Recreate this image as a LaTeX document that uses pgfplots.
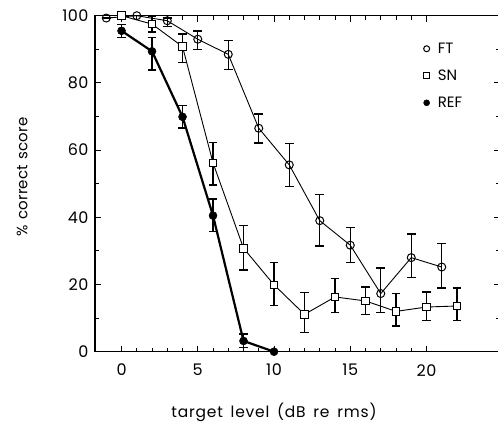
\documentclass[border=0pt]{standalone}
\usepackage{pgfplots}
\pgfplotsset{compat=1.18}
\usepackage{pgfplotstable}
\usepackage{fontspec}
\setmainfont{Poppins}
\pgfplotstableread{
x y ep em
-1 99.3 0 0
1 100 0 0
3 98.5 0.8 1.8
5 93 2.4 3
7 88.5 4.2 4.5
9 66.5 4.3 4.4
11 55.6 6.4 6.5
13 39 7.8 7.5
15 31.7 5.3 5.2
17 17.3 7.6 5.7
19 28 7 6
21 25.2 7 6.2
}\ft
\pgfplotstableread{
x y ep em
0 100 0 0
2 97.5 2.2 2.3
4 90.8 3.8 4.8
6 56.2 6.1 6.6
8 30.8 6.8 6.5
10 19.9 6.7 6.2
12 11.1 6.6 5.3
14 16.3 5.5 4.6
16 15.1 4.2 4.1
18 12 5.3 4.3
20 13.3 4.5 4.1
22 13.6 5.3 4.4
}\sn
\pgfplotstableread{
x y ep em
0 95.5 1.8 2
2 89.4 4.2 5.6
4 69.9 3.3 3.3
6 40.5 5 4.7
8 3.2 2.1 1.9
10 0 0 0
}\reff
\begin{document}
\begin{tikzpicture}
\useasboundingbox (-95pt,-71.3pt) rectangle (403pt,351.7pt);
\begin{axis}[
  at={(0,0)}, anchor=south west,
  scale only axis, width=405pt, height=336pt,
  xmin=-1.74, xmax=24.82, ymin=0, ymax=100,
  xtick={0,5,10,15,20}, minor x tick num=4,
  ytick={0,20,40,60,80,100}, minor y tick num=1,
  tick align=inside,
  major tick length=6pt, minor tick length=4pt,
  tick style={black, line width=1pt},
  axis line style={line width=1.3pt},
  /pgf/number format/assume math mode=true,
  tick label style={font=\fontsize{16}{16}\selectfont\addfontfeatures{LetterSpace=3}},
  xticklabel style={yshift=-9pt},
  yticklabel style={xshift=-3pt},
  xlabel={target\hspace{0.5em}level\hspace{0.5em}(dB\hspace{0.5em}re\hspace{0.5em}rms)},
  ylabel={\%\hspace{0.35em}correct\hspace{0.35em}score},
  xlabel style={font=\fontsize{15.5}{15.5}\selectfont\addfontfeatures{LetterSpace=5},
    at={(rel axis cs:0.442,0)}, anchor=center, yshift=-61pt},
  ylabel style={font=\fontsize{15}{15}\selectfont\addfontfeatures{LetterSpace=1},
    at={(rel axis cs:-0.18,0.52)}, anchor=center},
  legend style={draw=none, fill=none, at={(axis cs:19.8,92.6)}, anchor=north west,
    font=\fontsize{15}{15}\selectfont, row sep=11pt, inner sep=0pt},
  legend cell align=left,
  legend image code/.code={\path[draw=none] (0cm,0cm) -- (0.42cm,0cm);
    \draw[#1, mark size=3pt] plot coordinates {(0.1cm,0cm)};},
  error bars/y dir=both, error bars/y explicit,
  error bars/error mark options={rotate=90, mark size=4.3pt, line width=1.4pt},
  error bars/error bar style={line width=1.4pt},
]
\addplot[black, line width=0.9pt, mark=o, mark size=4pt, mark options={fill=white, line width=1pt}]
  table[x=x, y=y, y error plus=ep, y error minus=em]{\ft};
\addlegendentry{FT}
\addplot[black, line width=0.9pt, mark=square*, mark size=3.8pt, mark options={fill=white, line width=1pt}]
  table[x=x, y=y, y error plus=ep, y error minus=em]{\sn};
\addlegendentry{SN}
\addplot[black, line width=2.2pt, mark=*, mark size=4pt, mark options={fill=black, line width=0.5pt}]
  table[x=x, y=y, y error plus=ep, y error minus=em]{\reff};
\addlegendentry{REF}
\end{axis}
\end{tikzpicture}
\end{document}
